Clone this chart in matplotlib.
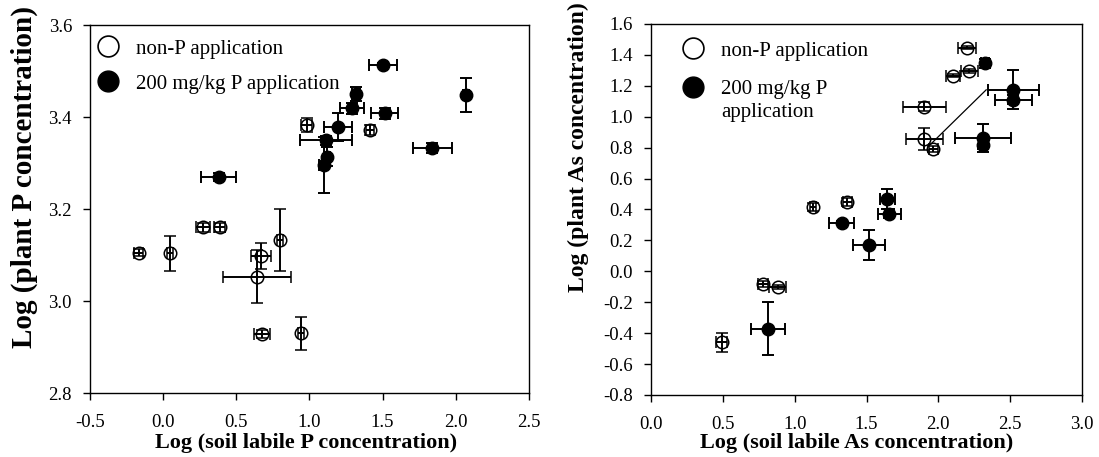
import matplotlib
matplotlib.use("Agg")
import matplotlib.pyplot as plt
from matplotlib.lines import Line2D

plt.rcParams['font.family'] = ['Liberation Serif', 'DejaVu Serif']

# ---------------- Left panel data (P) ----------------
p_open_x = [-0.166, 0.045, 0.273, 0.386, 0.80, 0.67, 0.64, 0.675, 0.943, 0.98, 1.415]
p_open_y = [3.105, 3.104, 3.16, 3.16, 3.133, 3.098, 3.053, 2.928, 2.93, 3.383, 3.372]
p_open_xerr = [0.03, 0.02, 0.05, 0.04, 0.02, 0.068, 0.233, 0.055, 0.02, 0.04, 0.027]
p_open_yerr = [0.008, 0.038, 0.01, 0.01, 0.068, 0.028, 0.057, 0.008, 0.036, 0.015, 0.01]

p_fill_x = [1.5, 1.318, 1.29, 1.515, 1.197, 1.113, 1.118, 1.097, 0.38, 2.068, 1.84]
p_fill_y = [3.513, 3.451, 3.419, 3.408, 3.379, 3.35, 3.314, 3.296, 3.27, 3.448, 3.333]
p_fill_xerr = [0.095, 0.03, 0.08, 0.093, 0.096, 0.18, 0.02, 0.03, 0.12, 0.02, 0.134]
p_fill_yerr = [0.005, 0.015, 0.012, 0.012, 0.03, 0.01, 0.02, 0.06, 0.008, 0.036, 0.01]

# ---------------- Right panel data (As) ----------------
as_open_x = [2.198, 2.217, 2.10, 1.903, 1.903, 1.966, 1.126, 1.367, 0.782, 0.882, 0.492]
as_open_y = [1.447, 1.297, 1.265, 1.066, 0.856, 0.792, 0.417, 0.447, -0.08, -0.101, -0.46]
as_open_xerr = [0.064, 0.056, 0.05, 0.148, 0.13, 0.03, 0.02, 0.03, 0.035, 0.06, 0.04]
as_open_yerr = [0.01, 0.015, 0.01, 0.03, 0.07, 0.02, 0.025, 0.025, 0.02, 0.015, 0.06]

as_fill_x = [2.326, 2.523, 2.523, 2.31, 2.31, 1.645, 1.66, 1.328, 1.518, 0.817]
as_fill_y = [1.346, 1.174, 1.11, 0.86, 0.82, 0.469, 0.372, 0.314, 0.17, -0.37]
as_fill_xerr = [0.03, 0.175, 0.13, 0.197, 0.02, 0.05, 0.08, 0.088, 0.112, 0.118]
as_fill_yerr = [0.03, 0.126, 0.03, 0.09, 0.03, 0.065, 0.03, 0.01, 0.097, 0.171]

as_line_x = [1.943, 2.333]
as_line_y = [0.819, 1.174]

labels_left = ['non-P application', '200 mg/kg P application']
labels_right = ['non-P application', '200 mg/kg P']
label_right_extra = 'application'

p_xticks = [-0.5, 0.0, 0.5, 1.0, 1.5, 2.0, 2.5]
p_yticks = [2.8, 3.0, 3.2, 3.4, 3.6]
as_xticks = [0.0, 0.5, 1.0, 1.5, 2.0, 2.5, 3.0]
as_yticks = [-0.8, -0.6, -0.4, -0.2, 0.0, 0.2, 0.4, 0.6, 0.8, 1.0, 1.2, 1.4, 1.6]

fig = plt.figure(figsize=(10.99, 4.57), dpi=100)
axL = fig.add_axes([0.0819, 0.140, 0.3994, 0.805])
axR = fig.add_axes([0.5924, 0.1357, 0.3921, 0.8118])

ekw = dict(ecolor='black', elinewidth=1.4, capsize=4, capthick=1.4, linestyle='none')

def draw(ax, ox, oy, oxe, oye, fx, fy, fxe, fye):
    ax.errorbar(ox, oy, xerr=oxe, yerr=oye, marker='o', markersize=9,
                markerfacecolor='none', markeredgecolor='black', markeredgewidth=1.1,
                zorder=3, **ekw)
    ax.errorbar(fx, fy, xerr=fxe, yerr=fye, marker='o', markersize=9,
                markerfacecolor='black', markeredgecolor='black',
                zorder=4, **ekw)

draw(axL, p_open_x, p_open_y, p_open_xerr, p_open_yerr,
     p_fill_x, p_fill_y, p_fill_xerr, p_fill_yerr)
draw(axR, as_open_x, as_open_y, as_open_xerr, as_open_yerr,
     as_fill_x, as_fill_y, as_fill_xerr, as_fill_yerr)
axR.plot(as_line_x, as_line_y, color='black', linewidth=0.9, zorder=2)

tickfs = 13.5
for ax, xt, yt in [(axL, p_xticks, p_yticks), (axR, as_xticks, as_yticks)]:
    ax.set_xticks(xt)
    ax.set_yticks(yt)
    ax.set_xlim(xt[0], xt[-1])
    ax.set_ylim(yt[0], yt[-1])
    ax.set_xticklabels([f'{v:.1f}' for v in xt])
    ax.set_yticklabels([f'{v:.1f}' for v in yt])
    ax.tick_params(direction='out', length=5, width=1, labelsize=tickfs)
    ax.tick_params(axis='x', pad=10)
    ax.tick_params(axis='y', pad=8)
    for s in ax.spines.values():
        s.set_linewidth(1.0)

axL.set_xlabel('Log (soil labile P concentration)', fontsize=16, fontweight='bold')
axL.xaxis.set_label_coords(0.492, -0.1085)
axR.set_xlabel('Log (soil labile As concentration)', fontsize=16, fontweight='bold')
axR.xaxis.set_label_coords(0.478, -0.1025)

fig.text(0.022, 0.2385, 'Log (plant P concentration)', rotation=90, ha='center', va='bottom',
         fontsize=21, fontweight='bold')
fig.text(0.526, 0.361, 'Log (plant As concentration)', rotation=90, ha='center', va='bottom',
         fontsize=17, fontweight='bold')

def legend(ax, labels, anchor, spacing):
    h = [Line2D([], [], marker='o', linestyle='none', markersize=15,
                markerfacecolor='white', markeredgecolor='black', markeredgewidth=1.2),
         Line2D([], [], marker='o', linestyle='none', markersize=15,
                markerfacecolor='black', markeredgecolor='black')]
    return ax.legend(h, labels, loc='upper left', bbox_to_anchor=anchor, frameon=False,
                     fontsize=15, handletextpad=0.75, labelspacing=spacing,
                     borderaxespad=0, borderpad=0, handlelength=1.2)

legend(axL, labels_left, (0.0125, 0.962), 0.74)
legR = legend(axR, labels_right, (0.068, 0.954), 0.9)
axR.annotate(label_right_extra, xy=(0, 0), xycoords=legR.get_texts()[1],
             xytext=(0, -23), textcoords='offset pixels', ha='left', va='bottom',
             fontsize=15, zorder=10)

fig.savefig('out.png', dpi=100)
